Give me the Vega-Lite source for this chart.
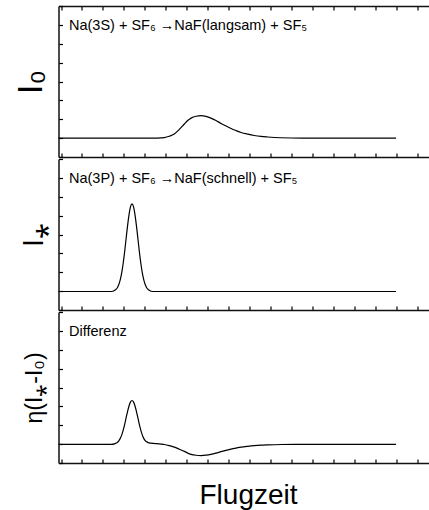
{
  "$schema": "https://vega.github.io/schema/vega-lite/v6.json",
  "padding": {"left": 12.5, "top": 5, "right": 0, "bottom": 5},
  "config": {
    "font": "Liberation Sans",
    "view": {"stroke": null},
    "concat": {"spacing": 0},
    "axis": {"grid": false, "labels": false, "domainColor": "#111", "domainWidth": 1.5, "tickColor": "#000", "tickSize": -4, "tickWidth": 1.2, "tickRound": true, "titleFont": "Liberation Sans", "titleFontWeight": "normal", "titleColor": "#000"}
  },
  "datasets": {
    "i0": [
      {"t": -0.12, "v": 1.0}, {"t": 4.3, "v": 1.0}, {"t": 4.6, "v": 1.005}, {"t": 4.93, "v": 1.03}, {"t": 5.17, "v": 1.10}, {"t": 5.41, "v": 1.22}, {"t": 5.65, "v": 1.46}, {"t": 5.89, "v": 1.75}, {"t": 6.05, "v": 1.93}, {"t": 6.21, "v": 2.06}, {"t": 6.45, "v": 2.16}, {"t": 6.69, "v": 2.19}, {"t": 6.92, "v": 2.15}, {"t": 7.16, "v": 2.06}, {"t": 7.40, "v": 1.93}, {"t": 7.64, "v": 1.78}, {"t": 7.88, "v": 1.64}, {"t": 8.12, "v": 1.51}, {"t": 8.36, "v": 1.40}, {"t": 8.60, "v": 1.30}, {"t": 8.92, "v": 1.21}, {"t": 9.23, "v": 1.14}, {"t": 9.55, "v": 1.09}, {"t": 9.87, "v": 1.06}, {"t": 10.5, "v": 1.02}, {"t": 11.5, "v": 1.0}, {"t": 16.0, "v": 1.0}
    ],
    "istar": [
      {"t": -0.12, "v": 0.98}, {"t": 2.41, "v": 0.98}, {"t": 2.55, "v": 1.03}, {"t": 2.62, "v": 1.09}, {"t": 2.69, "v": 1.18}, {"t": 2.76, "v": 1.35}, {"t": 2.83, "v": 1.61}, {"t": 2.90, "v": 1.98}, {"t": 2.97, "v": 2.49}, {"t": 3.04, "v": 3.10}, {"t": 3.11, "v": 3.80}, {"t": 3.18, "v": 4.48}, {"t": 3.25, "v": 5.07}, {"t": 3.32, "v": 5.48}, {"t": 3.39, "v": 5.62}, {"t": 3.46, "v": 5.48}, {"t": 3.53, "v": 5.07}, {"t": 3.60, "v": 4.48}, {"t": 3.67, "v": 3.80}, {"t": 3.74, "v": 3.10}, {"t": 3.81, "v": 2.49}, {"t": 3.88, "v": 1.98}, {"t": 3.95, "v": 1.61}, {"t": 4.02, "v": 1.35}, {"t": 4.09, "v": 1.18}, {"t": 4.16, "v": 1.09}, {"t": 4.23, "v": 1.03}, {"t": 4.37, "v": 0.98}, {"t": 16.0, "v": 0.98}
    ],
    "diff": [
      {"t": -0.12, "v": 0.99}, {"t": 2.41, "v": 0.99}, {"t": 2.55, "v": 1.015}, {"t": 2.62, "v": 1.05}, {"t": 2.69, "v": 1.09}, {"t": 2.76, "v": 1.175}, {"t": 2.83, "v": 1.305}, {"t": 2.90, "v": 1.49}, {"t": 2.97, "v": 1.745}, {"t": 3.04, "v": 2.05}, {"t": 3.11, "v": 2.40}, {"t": 3.18, "v": 2.74}, {"t": 3.25, "v": 3.035}, {"t": 3.32, "v": 3.24}, {"t": 3.39, "v": 3.31}, {"t": 3.46, "v": 3.24}, {"t": 3.53, "v": 3.035}, {"t": 3.60, "v": 2.74}, {"t": 3.67, "v": 2.40}, {"t": 3.74, "v": 2.05}, {"t": 3.81, "v": 1.745}, {"t": 3.88, "v": 1.49}, {"t": 3.95, "v": 1.305}, {"t": 4.02, "v": 1.19}, {"t": 4.09, "v": 1.12}, {"t": 4.16, "v": 1.08}, {"t": 4.30, "v": 1.05}, {"t": 4.5, "v": 1.03}, {"t": 4.78, "v": 1.0}, {"t": 4.93, "v": 0.98}, {"t": 5.17, "v": 0.92}, {"t": 5.41, "v": 0.84}, {"t": 5.65, "v": 0.73}, {"t": 5.89, "v": 0.615}, {"t": 6.05, "v": 0.525}, {"t": 6.21, "v": 0.46}, {"t": 6.45, "v": 0.41}, {"t": 6.69, "v": 0.395}, {"t": 6.92, "v": 0.415}, {"t": 7.16, "v": 0.46}, {"t": 7.40, "v": 0.525}, {"t": 7.64, "v": 0.60}, {"t": 7.88, "v": 0.67}, {"t": 8.12, "v": 0.735}, {"t": 8.36, "v": 0.79}, {"t": 8.60, "v": 0.84}, {"t": 8.92, "v": 0.885}, {"t": 9.23, "v": 0.92}, {"t": 9.55, "v": 0.945}, {"t": 9.87, "v": 0.96}, {"t": 10.5, "v": 0.98}, {"t": 11.5, "v": 0.99}, {"t": 16.0, "v": 0.99}
    ]
  },
  "spacing": 0,
  "vconcat": [
    {
      "width": 371.5, "height": 151,
      "layer": [
        {
          "data": {"name": "i0"},
          "mark": {"type": "line", "color": "#000", "strokeWidth": 1.2, "interpolate": "monotone"},
          "encoding": {
            "x": {"field": "t", "type": "quantitative", "title": null, "scale": {"domain": [-0.12, 17.62], "nice": false, "zero": false}, "axis": {"orient": "bottom", "values": [0,1,2,3,4,5,6,7,8,9,10,11,12,13,14,15,16,17]}},
            "y": {"field": "v", "type": "quantitative", "title": "I₀", "scale": {"domain": [0, 8], "nice": false, "zero": false}, "axis": {"values": [0,1,2,3,4,5,6,7,8], "titleFontSize": 35, "titlePadding": 9.5}}
          }
        },
        {
          "data": {"values": [{"label": "Na(3S) + SF₆ →NaF(langsam) + SF₅"}]},
          "mark": {"type": "text", "align": "left", "baseline": "middle", "fontSize": 14.5, "color": "#000"},
          "encoding": {
            "x": {"datum": 0.38, "type": "quantitative", "title": null, "axis": {"orient": "top", "values": [0,1,2,3,4,5,6,7,8,9,10,11,12,13,14,15,16,17]}},
            "y": {"datum": 6.95, "type": "quantitative", "title": "I₀", "axis": {"values": [0,1,2,3,4,5,6,7,8], "titleFontSize": 35, "titlePadding": 9.5}},
            "text": {"field": "label"}
          }
        }
      ],
      "resolve": {"axis": {"x": "independent"}}
    },
    {
      "width": 371.5, "height": 151,
      "layer": [
        {
          "data": {"name": "istar"},
          "mark": {"type": "line", "color": "#000", "strokeWidth": 1.2, "interpolate": "monotone"},
          "encoding": {
            "x": {"field": "t", "type": "quantitative", "title": null, "scale": {"domain": [-0.12, 17.62], "nice": false, "zero": false}, "axis": {"orient": "bottom", "values": [0,1,2,3,4,5,6,7,8,9,10,11,12,13,14,15,16,17]}},
            "y": {"field": "v", "type": "quantitative", "title": "I⁎", "scale": {"domain": [0, 8], "nice": false, "zero": false}, "axis": {"values": [0,1,2,3,4,5,6,7,8], "titleFontSize": 29, "titlePadding": 9.5}}
          }
        },
        {
          "data": {"values": [{"label": "Na(3P) + SF₆ →NaF(schnell) + SF₅"}]},
          "mark": {"type": "text", "align": "left", "baseline": "middle", "fontSize": 14.5, "color": "#000"},
          "encoding": {
            "x": {"datum": 0.38, "type": "quantitative", "axis": null},
            "y": {"datum": 6.95, "type": "quantitative", "title": "I⁎", "axis": {"values": [0,1,2,3,4,5,6,7,8], "titleFontSize": 29, "titlePadding": 9.5}},
            "text": {"field": "label"}
          }
        }
      ],
      "resolve": {"axis": {"x": "independent"}}
    },
    {
      "width": 371.5, "height": 151,
      "layer": [
        {
          "data": {"name": "diff"},
          "mark": {"type": "line", "color": "#000", "strokeWidth": 1.2, "interpolate": "monotone"},
          "encoding": {
            "x": {"field": "t", "type": "quantitative", "title": "Flugzeit", "scale": {"domain": [-0.12, 17.62], "nice": false, "zero": false}, "axis": {"orient": "bottom", "values": [0,1,2,3,4,5,6,7,8,9,10,11,12,13,14,15,16,17], "titleFontSize": 28, "titlePadding": 18, "titleX": 189.5}},
            "y": {"field": "v", "type": "quantitative", "title": "η(I⁎-I₀)", "scale": {"domain": [0, 8], "nice": false, "zero": false}, "axis": {"values": [0,1,2,3,4,5,6,7,8], "titleFontSize": 23, "titlePadding": 11}}
          }
        },
        {
          "data": {"values": [{"label": "Differenz"}]},
          "mark": {"type": "text", "align": "left", "baseline": "middle", "fontSize": 14.5, "color": "#000"},
          "encoding": {
            "x": {"datum": 0.38, "type": "quantitative", "axis": null},
            "y": {"datum": 6.93, "type": "quantitative", "title": "η(I⁎-I₀)", "axis": {"values": [0,1,2,3,4,5,6,7,8], "titleFontSize": 23, "titlePadding": 11}},
            "text": {"field": "label"}
          }
        }
      ],
      "resolve": {"axis": {"x": "independent"}}
    }
  ]
}
